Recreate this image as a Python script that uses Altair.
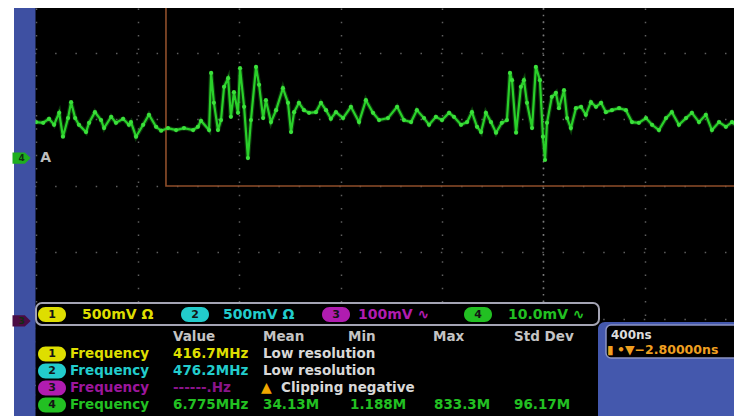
import altair as alt
import pandas as pd

# ---------------- data: channel 4 trace (10 mV/div, 400 ns/div) ----------------
time_ns = [
    -2000, -1972, -1949, -1929, -1909, -1894, -1874, -1862, -1846, -1831,
    -1803, -1791, -1768, -1744, -1732, -1704, -1685, -1657, -1634, -1626,
    -1606, -1578, -1555, -1527, -1507, -1480, -1448, -1417, -1381, -1362,
    -1350, -1318, -1310, -1299, -1283, -1271, -1259, -1243, -1232, -1220,
    -1204, -1196, -1180, -1165, -1153, -1133, -1121, -1105, -1094, -1074,
    -1054, -1027, -1007, -995, -983, -964, -944, -924, -897, -877,
    -857, -838, -818, -790, -759, -727, -700, -672, -648, -613,
    -577, -550, -522, -499, -471, -451, -424, -400, -372, -353,
    -325, -301, -282, -262, -246, -227, -207, -187, -164, -144,
    -132, -124, -108, -89, -77, -65, -45, -30, -14, -2,
    6, 14, 33, 49, 61, 81, 93, 108, 128, 148,
    167, 187, 207, 227, 246, 270, 298, 325, 349, 376,
    404, 428, 455, 483, 506, 534, 562, 585, 613, 640,
    664, 692, 719, 743, 770, 782,
]
volt_mv = [
    5.4, 5.3, 5.9, 5.0, 6.8, 3.2, 6.0, 8.4, 6.0, 5.0,
    3.9, 5.3, 6.9, 5.7, 4.5, 6.2, 5.3, 5.9, 5.0, 5.4,
    3.2, 5.0, 6.5, 4.7, 4.1, 4.5, 4.2, 4.5, 4.2, 4.7,
    5.6, 4.2, 12.8, 8.3, 4.2, 5.7, 10.7, 12.0, 6.2, 9.9,
    6.8, 13.5, 7.7, 0.0, 5.7, 13.7, 11.0, 6.0, 8.7, 5.4,
    7.2, 10.5, 8.3, 3.9, 6.9, 8.3, 7.2, 6.8, 6.9, 8.3,
    7.2, 5.9, 6.9, 6.0, 7.7, 5.4, 8.7, 6.8, 5.7, 6.0,
    7.7, 5.7, 5.4, 7.2, 6.0, 5.0, 6.2, 5.7, 6.8, 6.2,
    5.0, 5.4, 6.9, 4.7, 3.9, 6.8, 5.4, 3.8, 5.3, 5.7,
    12.8, 11.7, 3.8, 10.7, 11.7, 8.3, 4.5, 13.7, 11.7, 3.2,
    -0.3, 5.3, 9.2, 9.8, 7.5, 10.2, 6.0, 4.5, 7.5, 7.7,
    6.5, 8.4, 7.7, 8.3, 6.9, 7.2, 7.5, 7.2, 5.4, 5.3,
    6.0, 5.0, 4.2, 6.0, 6.9, 5.0, 6.0, 6.8, 5.4, 6.5,
    4.2, 5.4, 4.7, 5.4, 4.5, 5.3,
]

# graticule (tick values)
grid_t = [-2000, -1600, -1200, -800, -400, 0, 400]
grid_v = [15.8, 5.8, -4.2, -14.2, -24.2, -34.2]
center_t = [0]

# zoom box corner (left edge time, bottom edge level)
zoom_left_t = [-1488]
zoom_bottom_v = [-4.2]

# channel legends / readouts
ch_numbers = ["1", "2", "3", "4"]
ch_colors = ["#dede00", "#22cccc", "#b01cb0", "#22c022"]
ch_scale_text = ["500mV Ω", "500mV Ω", "100mV  ∿", "10.0mV  ∿"]
meas_headers = ["Value", "Mean", "Min", "Max", "Std Dev"]
meas_name = "Frequency"
meas_values = ["416.7MHz", "476.2MHz", "------.Hz", "6.775MHz"]
ch4_stats = ["34.13M", "1.188M", "833.3M", "96.17M"]
status_low = "Low resolution"
status_clip = "Clipping negative"
timebase = "400ns"
trig_pos = "•▼−2.80000ns"

# ---------------- layout ----------------
W, H = 720, 408
OX, OY = 14, 8
X_DOMAIN = [-2087, 751]
Y_DOMAIN = [-38.8, 22.56]
FONT = "DejaVu Sans"


def px(x):
    return x - OX


def py(y):
    return y - OY


xs = alt.Scale(domain=X_DOMAIN, nice=False, zero=False)
ys = alt.Scale(domain=Y_DOMAIN, nice=False, zero=False)
GRID = "#5e5e5e"


def box(x1, y1, x2, y2, fill, stroke=None, sw=0, r=0):
    df = pd.DataFrame({"x": [px(x1)], "x2": [px(x2)], "y": [py(y1)], "y2": [py(y2)]})
    kw = dict(fill=fill, cornerRadius=r)
    if stroke:
        kw.update(stroke=stroke, strokeWidth=sw)
    return alt.Chart(df).mark_rect(**kw).encode(
        x=alt.X("x:Q", scale=None, axis=None), x2="x2:Q",
        y=alt.Y("y:Q", scale=None, axis=None), y2="y2:Q",
    )


wave = pd.DataFrame({"t": time_ns, "v": volt_mv})

base_x = alt.X("t:Q", scale=xs, axis=alt.Axis(values=grid_t, grid=True, gridColor=GRID,
                                               gridDash=[1.5, 11.8], gridWidth=1.5,
                                               domain=False, ticks=False, labels=False, title=None))
base_y = alt.Y("v:Q", scale=ys, axis=alt.Axis(values=grid_v, grid=True, gridColor=GRID,
                                               gridDash=[1.5, 18.8], gridWidth=1.5,
                                               domain=False, ticks=False, labels=False, title=None))

trace_glow = alt.Chart(wave).mark_line(color="#1f9a1f", strokeWidth=4.5, opacity=0.35, clip=True).encode(
    x=base_x, y=base_y, order="t:Q")
trace_line = alt.Chart(wave).mark_line(color="#2ad02a", strokeWidth=2.2, clip=True).encode(
    x=alt.X("t:Q", scale=xs), y=alt.Y("v:Q", scale=ys), order="t:Q")
trace_pts = alt.Chart(wave).mark_circle(color="#3be03b", size=18, opacity=1, clip=True).encode(
    x=alt.X("t:Q", scale=xs), y=alt.Y("v:Q", scale=ys))

center_line = alt.Chart(pd.DataFrame({"t": center_t})).mark_rule(
    color="#7a7a7a", strokeWidth=1.5, strokeDash=[1.5, 5.15]).encode(
    x=alt.X("t:Q", scale=xs))

zoom_box = alt.Chart(pd.DataFrame({"t": zoom_left_t, "t2": [X_DOMAIN[1] + 100],
                                   "v": zoom_bottom_v, "v2": [Y_DOMAIN[1] + 10]})).mark_rect(
    fillOpacity=0, stroke="#8e4e2a", strokeWidth=1.6, clip=True).encode(
    x=alt.X("t:Q", scale=xs), x2="t2:Q", y=alt.Y("v:Q", scale=ys), y2="v2:Q")

# panels
BLUE = "#3e50a2"
left_strip = box(14, 0, 35.5, 430, BLUE)
right_blue = box(598, 322, 760, 430, "#4458ad", r=7)
meas_panel = box(36, 325, 598, 430, "black")
ch_bar = box(36, 303, 599, 325, "black", stroke="#a4a4b4", sw=2, r=6)
time_box = box(606, 325, 760, 358, "black", stroke="#8a92c4", sw=1.5, r=5)

# pills (channel badges)
bar_pill_x = [38, 181, 322, 464]
row_y = [354, 371, 388, 405]
pill_rows = []
for i in range(4):
    pill_rows.append(dict(x=px(bar_pill_x[i]), x2=px(bar_pill_x[i] + 28), y=py(307), y2=py(322),
                          color=ch_colors[i], num=ch_numbers[i], cx=px(bar_pill_x[i] + 14), cy=py(314.5)))
    pill_rows.append(dict(x=px(38), x2=px(66), y=py(row_y[i] - 7.5), y2=py(row_y[i] + 7.5),
                          color=ch_colors[i], num=ch_numbers[i], cx=px(52), cy=py(row_y[i])))
pills_df = pd.DataFrame(pill_rows)
pills = alt.Chart(pills_df).mark_rect(cornerRadius=7.5).encode(
    x=alt.X("x:Q", scale=None, axis=None), x2="x2:Q",
    y=alt.Y("y:Q", scale=None, axis=None), y2="y2:Q",
    color=alt.Color("color:N", scale=None))
pill_nums = alt.Chart(pills_df).mark_text(font=FONT, fontSize=11, fontWeight="bold",
                                          color="#151515", align="center", baseline="middle").encode(
    x=alt.X("cx:Q", scale=None, axis=None), y=alt.Y("cy:Q", scale=None, axis=None), text="num:N")

# texts: (text, x, y, colour, size)
texts = []
bar_text_x = [82, 223, 358, 508]
for i in range(4):
    texts.append((ch_scale_text[i], bar_text_x[i], 314.5, ch_colors[i], 14))
head_x = [173, 263, 348, 433, 514]
for h, hx in zip(meas_headers, head_x):
    texts.append((h, hx, 337, "#c4c4c4", 13.5))
name_colors = ["#dede00", "#22cccc", "#9c169c", "#22c022"]
for i in range(4):
    texts.append((meas_name, 70, row_y[i], name_colors[i], 13.5))
value_colors = ["#dede00", "#22cccc", "#8a148a", "#22c022"]
for i in range(4):
    texts.append((meas_values[i], 173, row_y[i], value_colors[i], 13.5))
texts.append((status_low, 263, row_y[0], "#d8d8d8", 13.5))
texts.append((status_low, 263, row_y[1], "#d8d8d8", 13.5))
texts.append(("▲", 261, row_y[2], "#f0a800", 14))
texts.append((status_clip, 281, row_y[2], "#d8d8d8", 13.5))
stat_x = [263, 350, 434, 514]
for s, sx in zip(ch4_stats, stat_x):
    texts.append((s, sx, row_y[3], "#22c022", 13.5))
texts.append((timebase, 611, 335, "#dcdcdc", 12))
texts.append(("▮", 607, 350, "#f0a020", 12))
texts.append((trig_pos, 617, 350, "#f0a020", 12.5))
text_df = pd.DataFrame({
    "text": [t[0] for t in texts],
    "x": [px(t[1]) for t in texts],
    "y": [py(t[2]) for t in texts],
    "color": [t[3] for t in texts],
    "fs": [t[4] for t in texts],
})
text_layer = alt.Chart(text_df).mark_text(font=FONT, fontWeight="bold",
                                          align="left", baseline="middle").encode(
    x=alt.X("x:Q", scale=None, axis=None), y=alt.Y("y:Q", scale=None, axis=None),
    color=alt.Color("color:N", scale=None), size=alt.Size("fs:Q", scale=None, legend=None),
    text="text:N")

# channel ground markers on the left edge
marker_df = pd.DataFrame({"t": [-2057, -2057], "v": [0.0, -24.5],
                          "color": ["#1fae1f", "#4a0c44"], "num": ["4", "3"]})
arrow = "M-1,-0.62 L0.35,-0.62 L1,0 L0.35,0.62 L-1,0.62 Z"
markers = alt.Chart(marker_df).mark_point(shape=arrow, filled=True, size=330, opacity=1).encode(
    x=alt.X("t:Q", scale=xs), y=alt.Y("v:Q", scale=ys), color=alt.Color("color:N", scale=None))
marker_nums = alt.Chart(marker_df).mark_text(font=FONT, fontSize=9, fontWeight="bold",
                                             color="#103010", align="center", baseline="middle").encode(
    x=alt.X("t:Q", scale=xs), y=alt.Y("v:Q", scale=ys), text="num:N")
a_label = alt.Chart(pd.DataFrame({"t": [-1984], "v": [0.0], "s": ["A"]})).mark_text(
    font=FONT, fontSize=14, fontWeight="bold", color="#bdbdbd", align="left", baseline="middle").encode(
    x=alt.X("t:Q", scale=xs), y=alt.Y("v:Q", scale=ys), text="s:N")

chart = alt.layer(
    trace_glow, center_line, zoom_box, trace_line, trace_pts,
    left_strip, right_blue, meas_panel, ch_bar, time_box,
    pills, pill_nums, text_layer, markers, marker_nums, a_label,
).properties(
    width=W, height=H,
    padding={"left": 6, "top": 0, "right": 0, "bottom": 0},
    autosize=alt.AutoSizeParams(type="none"),
    background="white",
).configure_view(fill="black", stroke=None)

chart.save("out.html", embed_options={"renderer": "svg", "actions": False})
